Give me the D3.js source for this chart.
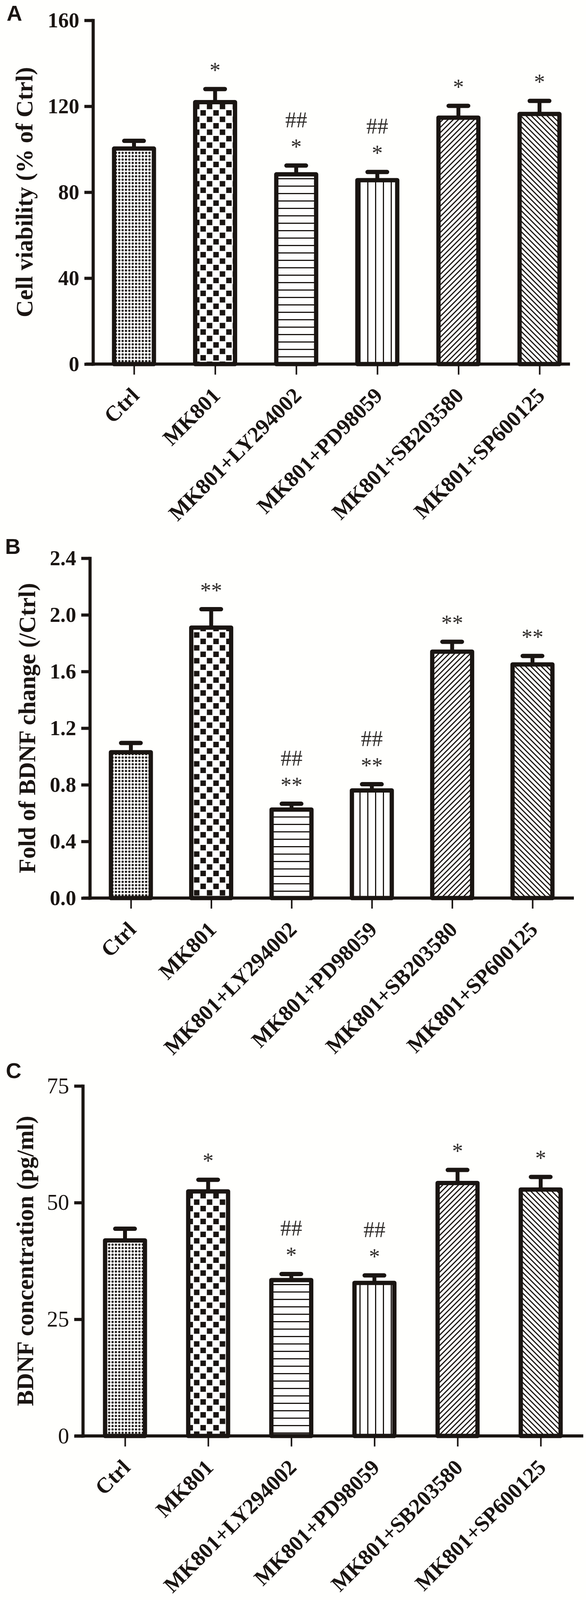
<!DOCTYPE html>
<html>
<head>
<meta charset="utf-8">
<script src="https://cdn.jsdelivr.net/npm/d3@7"></script>
<style>
  body { margin: 0; background: #fffffd; }
  svg { display: block; }
</style>
</head>
<body>
<svg id="figure"></svg>
<script>
// Three bar panels (A, B, C) stacked, each with patterned bars, upward
// error bars, significance marks and 45 degree category labels.

//// DATA /////////////////////////////////////////////////////////////////////

var categories = ["Ctrl", "MK801", "MK801+LY294002", "MK801+PD98059",
                  "MK801+SB203580", "MK801+SP600125"];

// A: cell viability (% of Ctrl)
var viabilityMean = [100.3, 121.9, 88.3, 85.6, 114.7, 116.4];
var viabilityErr = [3.6, 6.1, 4.1, 3.8, 5.5, 6.1];
var viabilityTicks = [0, 40, 80, 120, 160];
var viabilityStars = ["", "*", "*", "*", "*", "*"];
var viabilityHashes = ["", "", "##", "##", "", ""];

// B: fold of BDNF change (/Ctrl)
var foldMean = [1.03, 1.91, 0.625, 0.76, 1.74, 1.65];
var foldErr = [0.065, 0.13, 0.041, 0.044, 0.07, 0.06];
var foldTicks = [0, 0.4, 0.8, 1.2, 1.6, 2.0, 2.4];
var foldStars = ["", "**", "**", "**", "**", "**"];
var foldHashes = ["", "", "##", "##", "", ""];

// C: BDNF concentration (pg/ml)
var concMean = [41.9, 52.4, 33.4, 32.8, 54.2, 52.8];
var concErr = [2.5, 2.5, 1.3, 1.6, 2.8, 2.7];
var concTicks = [0, 25, 50, 75];
var concStars = ["", "*", "*", "*", "*", "*"];
var concHashes = ["", "", "##", "##", "", ""];


//// SETTINGS /////////////////////////////////////////////////////////////////

var fig = {};
fig.width = 1500;
fig.height = 4140;
fig.ink = "#1a1512";
fig.markInk = "#2e2b29";
fig.serif = "'Liberation Serif', 'Times New Roman', serif";
fig.sans = "'Liberation Sans', Arial, sans-serif";
fig.barWidth = 102;
fig.capHalf = 25;

fig.panels = [
	{ letter: "A", letterX: 17, letterY: 53,
	  title: "Cell viability (% of Ctrl)", titleX: 83,
	  mean: viabilityMean, err: viabilityErr, ticks: viabilityTicks, max: 160,
	  format: d3.format("d"), tickWeight: "bold",
	  stars: viabilityStars, hashes: viabilityHashes,
	  axisX: 238, top: 52, bottom: 932, first: 343, last: 1381,
	  lineStart: 220, lineEnd: 1459 },
	{ letter: "B", letterX: 13, letterY: 1418,
	  title: "Fold of BDNF change (/Ctrl)", titleX: 90,
	  mean: foldMean, err: foldErr, ticks: foldTicks, max: 2.4,
	  format: d3.format(".1f"), tickWeight: "bold",
	  stars: foldStars, hashes: foldHashes,
	  axisX: 230, top: 1429, bottom: 2299, first: 335, last: 1363,
	  lineStart: 212, lineEnd: 1469 },
	{ letter: "C", letterX: 15, letterY: 2760,
	  title: "BDNF concentration (pg/ml)", titleX: 85,
	  mean: concMean, err: concErr, ticks: concTicks, max: 75,
	  format: d3.format("d"), tickWeight: "normal",
	  stars: concStars, hashes: concHashes,
	  axisX: 212, top: 2780, bottom: 3676, first: 320, last: 1384,
	  lineStart: 191, lineEnd: 1493 }
];

fig.patternIds = ["pat-dots", "pat-checker", "pat-hlines", "pat-vlines", "pat-diag-up", "pat-diag-down"];


//// UI SETUP /////////////////////////////////////////////////////////////////

fig.svg = d3.select("#figure")
	.attr("width", fig.width)
	.attr("height", fig.height);

fig.svg.append("rect")
	.attr("width", fig.width)
	.attr("height", fig.height)
	.attr("fill", "#fffffd");

var defs = fig.svg.append("defs");

function addPattern(id, w, h, transform) {
	var p = defs.append("pattern")
		.attr("id", id)
		.attr("patternUnits", "userSpaceOnUse")
		.attr("width", w)
		.attr("height", h);
	if (transform) p.attr("patternTransform", transform);
	p.append("rect").attr("width", w).attr("height", h).attr("fill", "#ffffff");
	return p;
}

addPattern("pat-dots", 8.6, 8.6)
	.append("circle").attr("cx", 4.3).attr("cy", 4.3).attr("r", 2.9).attr("fill", fig.ink);

var checker = addPattern("pat-checker", 33, 33);
checker.append("rect").attr("x", 1.5).attr("y", 1.5).attr("width", 14).attr("height", 14).attr("fill", fig.ink);
checker.append("rect").attr("x", 18).attr("y", 18).attr("width", 14).attr("height", 14).attr("fill", fig.ink);

addPattern("pat-hlines", 20, 19)
	.append("rect").attr("width", 20).attr("height", 3).attr("fill", fig.ink);

addPattern("pat-vlines", 20, 20)
	.append("rect").attr("width", 3).attr("height", 20).attr("fill", fig.ink);

addPattern("pat-diag-up", 9.5, 9.5, "rotate(45)")
	.append("rect").attr("width", 3).attr("height", 9.5).attr("fill", fig.ink);

addPattern("pat-diag-down", 9.5, 9.5, "rotate(-45)")
	.append("rect").attr("width", 3).attr("height", 9.5).attr("fill", fig.ink);


//// PANELS ///////////////////////////////////////////////////////////////////

function drawPanel(p) {
	var g = fig.svg.append("g").attr("class", "panel-" + p.letter);

	var y = d3.scaleLinear().domain([0, p.max]).range([p.bottom, p.top]);
	var x = d3.scalePoint().domain(categories).range([p.first, p.last]);

	var rows = categories.map(function(c, i) {
		return { name: c, mean: p.mean[i], err: p.err[i],
		         star: p.stars[i], hash: p.hashes[i], pattern: fig.patternIds[i] };
	});

	// error bars (upper half only)
	var eb = g.append("g").selectAll("g").data(rows).join("g");
	eb.append("line")
		.attr("x1", function(d) { return x(d.name); })
		.attr("x2", function(d) { return x(d.name); })
		.attr("y1", function(d) { return y(d.mean); })
		.attr("y2", function(d) { return y(d.mean + d.err); })
		.attr("stroke", fig.ink)
		.attr("stroke-width", 10);
	eb.append("line")
		.attr("x1", function(d) { return x(d.name) - fig.capHalf; })
		.attr("x2", function(d) { return x(d.name) + fig.capHalf; })
		.attr("y1", function(d) { return y(d.mean + d.err); })
		.attr("y2", function(d) { return y(d.mean + d.err); })
		.attr("stroke", fig.ink)
		.attr("stroke-width", 11)
		.attr("stroke-linecap", "round");

	// bars
	g.append("g").selectAll("rect").data(rows).join("rect")
		.attr("x", function(d) { return x(d.name) - fig.barWidth / 2; })
		.attr("y", function(d) { return y(d.mean); })
		.attr("width", fig.barWidth)
		.attr("height", function(d) { return y(0) - y(d.mean); })
		.attr("fill", function(d) { return "url(#" + d.pattern + ")"; })
		.attr("stroke", fig.ink)
		.attr("stroke-width", 11)
		.attr("stroke-linejoin", "round");

	// significance marks
	var marks = g.append("g")
		.attr("font-family", fig.serif)
		.attr("font-size", 56)
		.attr("fill", fig.markInk)
		.attr("text-anchor", "middle");
	marks.selectAll("text.star").data(rows).join("text")
		.attr("class", "star")
		.attr("x", function(d) { return x(d.name); })
		.attr("y", function(d) { return y(d.mean + d.err) - 29; })
		.text(function(d) { return d.star; });
	marks.selectAll("text.hash").data(rows).join("text")
		.attr("class", "hash")
		.attr("x", function(d) { return x(d.name); })
		.attr("y", function(d) { return y(d.mean + d.err) - 98; })
		.text(function(d) { return d.hash; });

	// y axis
	var yAxis = g.append("g")
		.attr("transform", "translate(" + p.axisX + ",0)")
		.call(d3.axisLeft(y).tickValues(p.ticks).tickSize(22).tickSizeOuter(0)
			.tickPadding(13).tickFormat(p.format));
	yAxis.select(".domain")
		.attr("stroke", fig.ink)
		.attr("stroke-width", 8)
		.attr("stroke-linecap", "square");
	yAxis.selectAll(".tick line")
		.attr("stroke", fig.ink)
		.attr("stroke-width", 8);
	yAxis.selectAll(".tick text")
		.attr("fill", fig.ink)
		.attr("font-family", fig.serif)
		.attr("font-size", p.tickWeight === "bold" ? 54 : 57)
		.attr("font-weight", p.tickWeight);

	// x axis: ticks and rotated labels from the axis, line drawn across
	var xAxis = g.append("g")
		.attr("transform", "translate(0," + p.bottom + ")")
		.call(d3.axisBottom(x).tickSize(27).tickSizeOuter(0));
	xAxis.select(".domain").remove();
	xAxis.selectAll(".tick line")
		.attr("stroke", fig.ink)
		.attr("stroke-width", 4);
	xAxis.selectAll(".tick text")
		.attr("x", 0)
		.attr("y", 0)
		.attr("dy", null)
		.attr("text-anchor", "end")
		.attr("transform", "translate(16,84) rotate(-45)")
		.attr("fill", fig.ink)
		.attr("font-family", fig.serif)
		.attr("font-size", 56)
		.attr("font-weight", "bold");

	g.append("line")
		.attr("x1", p.lineStart)
		.attr("x2", p.lineEnd)
		.attr("y1", p.bottom)
		.attr("y2", p.bottom)
		.attr("stroke", fig.ink)
		.attr("stroke-width", 8);

	// y title
	g.append("text")
		.attr("transform", "translate(" + p.titleX + "," + ((p.top + p.bottom) / 2) + ") rotate(-90)")
		.attr("text-anchor", "middle")
		.attr("font-family", fig.serif)
		.attr("font-size", 61)
		.attr("font-weight", "bold")
		.attr("fill", fig.ink)
		.text(p.title);

	// panel letter
	g.append("text")
		.attr("x", p.letterX)
		.attr("y", p.letterY)
		.attr("font-family", fig.sans)
		.attr("font-size", 55)
		.attr("font-weight", "bold")
		.attr("fill", fig.ink)
		.text(p.letter);
}

fig.panels.forEach(drawPanel);
</script>
</body>
</html>
